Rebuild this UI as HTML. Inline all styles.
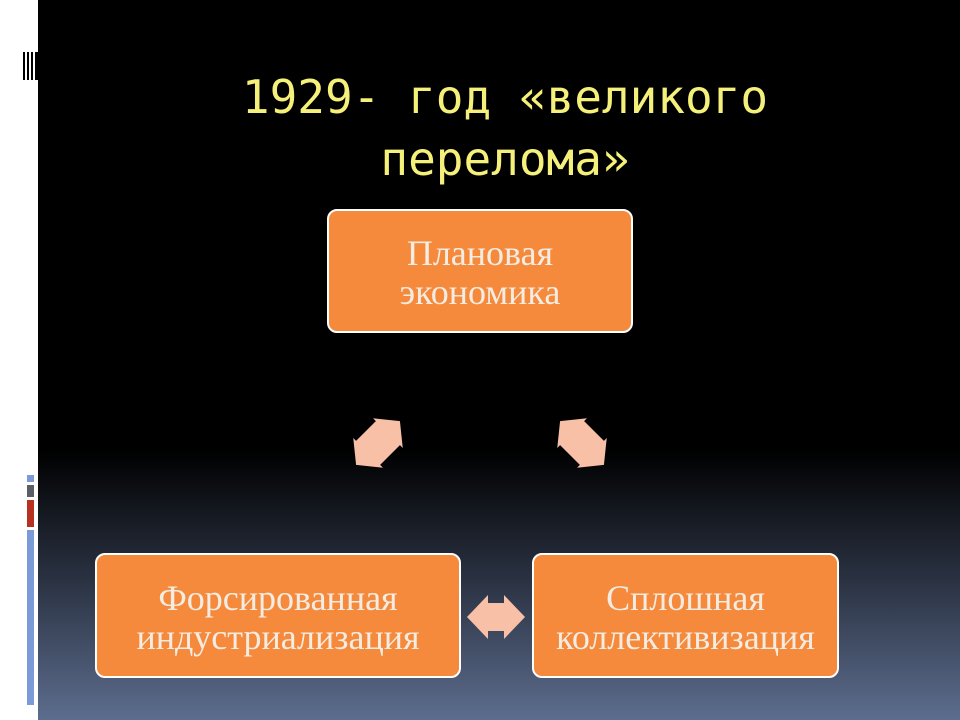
<!DOCTYPE html>
<html><head><meta charset="utf-8"><style>
body{margin:0;width:960px;height:720px;overflow:hidden;position:relative;background:#fff;font-family:"Liberation Serif",serif}
#bg{position:absolute;left:38px;top:0;width:922px;height:720px;background:linear-gradient(to bottom,#000 0,#000 450px,#2a3242 580px,#5d6d8e 720px)}
.bar{position:absolute;background:#000}
.box{position:absolute;background:#f68a3c;border:2px solid #fff;border-radius:10px;box-sizing:border-box;color:#f3ece2;font-size:36px;line-height:39px;text-align:center;display:flex;align-items:center;justify-content:center;padding-top:4px}
.t{position:absolute;left:0;width:1010px;text-align:center;color:#f5f07a;font-family:"DejaVu Sans Mono","Liberation Mono",monospace;font-size:46px}
</style></head><body>
<div id="bg"></div>
<div class="bar" style="left:23px;top:52px;width:2px;height:28px"></div>
<div class="bar" style="left:27px;top:52px;width:2px;height:28px"></div>
<div class="bar" style="left:31px;top:52px;width:2px;height:28px"></div>
<div class="bar" style="left:35px;top:52px;width:3px;height:28px"></div>
<div style="position:absolute;left:27px;top:475px;width:7px;height:7px;background:#7a9ad8"></div>
<div style="position:absolute;left:27px;top:485px;width:7px;height:12px;background:#5a5f66"></div>
<div style="position:absolute;left:27px;top:500px;width:7px;height:27px;background:#b83020"></div>
<div style="position:absolute;left:27px;top:530px;width:7px;height:175px;background:#7a9ad8"></div>
<div class="t" style="top:70px">1929- год «великого</div>
<div class="t" style="top:132px">перелома»</div>
<div class="box" style="left:327px;top:209px;width:306px;height:124px">Плановая<br>экономика</div>
<div class="box" style="left:95px;top:553px;width:366px;height:125px">Форсированная<br>индустриализация</div>
<div class="box" style="left:532px;top:553px;width:307px;height:125px">Сплошная<br>коллективизация</div>
<svg width="960" height="720" style="position:absolute;left:0;top:0">
<polygon points="-29,0 -8,-22 -8,-14 8,-14 8,-22 29,0 8,22 8,14 -8,14 -8,22" fill="#f9c0a8" transform="translate(496,617)"/>
<g fill="#f9c0a8">
<polygon points="-31,0 -14,-21 -14,-17 14,-17 14,-21 31,0 14,21 14,17 -14,17 -14,21" transform="translate(378,443) rotate(-45)"/>
<polygon points="-31,0 -14,-21 -14,-17 14,-17 14,-21 31,0 14,21 14,17 -14,17 -14,21" transform="translate(582,443) rotate(45)"/>
</g>
</svg>
</body></html>
